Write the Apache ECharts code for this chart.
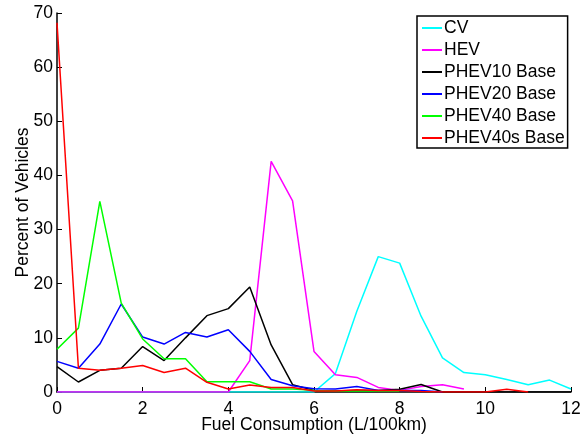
<!DOCTYPE html>
<html>
<head>
<meta charset="utf-8">
<script src="https://cdn.jsdelivr.net/npm/echarts@6/dist/echarts.min.js"></script>
<style>
  html, body { margin: 0; padding: 0; background: #fff; }
  #chart { width: 586px; height: 435px; }
</style>
</head>
<body>
<div id="chart"></div>
<script>
// fuel consumption bins, L/100km
const fuel = [0, 0.5, 1, 1.5, 2, 2.5, 3, 3.5, 4, 4.5, 5, 5.5, 6, 6.5, 7, 7.5, 8, 8.5, 9, 9.5, 10, 10.5, 11, 11.5, 12];

const cv = [0, 0, 0, 0, 0, 0, 0, 0, 0, 0, 0, 0, 0, 3.4, 14.9, 25.0, 23.8, 14.0, 6.3, 3.6, 3.2, 2.3, 1.35, 2.2, 0.55];
const hev = [0, 0, 0, 0, 0, 0, 0, 0, 0, 5.8, 42.6, 35.3, 7.5, 3.2, 2.7, 0.85, 0.3, 1.0, 1.35, 0.55];
const phev10 = [4.7, 1.85, 4.0, 4.4, 8.4, 5.8, 10.0, 14.1, 15.4, 19.4, 8.7, 1.35, 0.3, 0.2, 0.3, 0.3, 0.5, 1.4, 0, 0, 0, 0, 0, 0, 0];
const phev20 = [5.65, 4.4, 8.85, 16.25, 10.15, 8.85, 11.0, 10.15, 11.5, 7.5, 2.3, 1.15, 0.6, 0.55, 1.0, 0.3, 0.3, 0.3, 0];
const phev40 = [7.9, 11.8, 35.2, 16.4, 9.8, 6.15, 6.15, 1.9, 1.9, 1.9, 0.55, 0.55, 0.3, 0.2, 0.2, 0.2, 0.2];
const phev40s = [68.2, 4.4, 4.0, 4.4, 4.9, 3.6, 4.4, 1.8, 0.55, 1.3, 0.85, 0.85, 0.2, 0.2, 0.4, 0.3, 0.3, 0.1, 0, 0, 0, 0.5, 0];

const names = ['CV', 'HEV', 'PHEV10 Base', 'PHEV20 Base', 'PHEV40 Base', 'PHEV40s Base'];
const colors = ['#00ffff', '#ff00ff', '#000000', '#0000ff', '#00ff00', '#ff0000'];
const values = [cv, hev, phev10, phev20, phev40, phev40s];

const font = 'Liberation Sans, Arial, sans-serif';

const chart = echarts.init(document.getElementById('chart'));

chart.setOption({
  animation: false,
  backgroundColor: '#fff',
  grid: { left: 57, right: 15, top: 13, bottom: 43, containLabel: false, outerBoundsMode: 'none' },
  legend: {
    orient: 'vertical',
    left: 417,
    top: 16,
    padding: [2, 3, 0, 5],
    icon: 'rect',
    itemWidth: 20,
    itemHeight: 2,
    itemGap: 2,
    borderColor: '#000',
    borderWidth: 1.5,
    backgroundColor: '#fff',
    textStyle: { fontFamily: font, fontSize: 17.5, color: '#000', lineHeight: 20, padding: [0, 0, 0, -3] },
    data: names
  },
  xAxis: {
    type: 'value',
    min: 0,
    max: 12,
    interval: 2,
    name: 'Fuel Consumption (L/100km)',
    nameLocation: 'middle',
    nameGap: 24,
    nameMoveOverlap: false,
    nameTextStyle: { fontFamily: font, fontSize: 17.5, color: '#000' },
    axisLine: { lineStyle: { color: '#000', width: 1.5 } },
    axisTick: { inside: true, length: 5, lineStyle: { color: '#000' } },
    axisLabel: { fontFamily: font, fontSize: 17.5, color: '#000', margin: 8 },
    splitLine: { show: false }
  },
  yAxis: {
    type: 'value',
    min: 0,
    max: 70,
    interval: 10,
    name: 'Percent of Vehicles',
    nameLocation: 'middle',
    nameGap: 25,
    nameMoveOverlap: false,
    nameTextStyle: { fontFamily: font, fontSize: 17.5, color: '#000' },
    axisLine: { show: true, lineStyle: { color: '#000', width: 1.5 } },
    axisTick: { show: true, inside: true, length: 5, lineStyle: { color: '#000' } },
    axisLabel: { fontFamily: font, fontSize: 17.5, color: '#000', margin: 4 },
    splitLine: { show: false }
  },
  series: names.map((name, i) => ({
    name: name,
    type: 'line',
    symbol: 'none',
    color: colors[i],
    lineStyle: { color: colors[i], width: 1.5 },
    data: values[i].map((v, j) => [fuel[j], v])
  }))
});
</script>
</body>
</html>
